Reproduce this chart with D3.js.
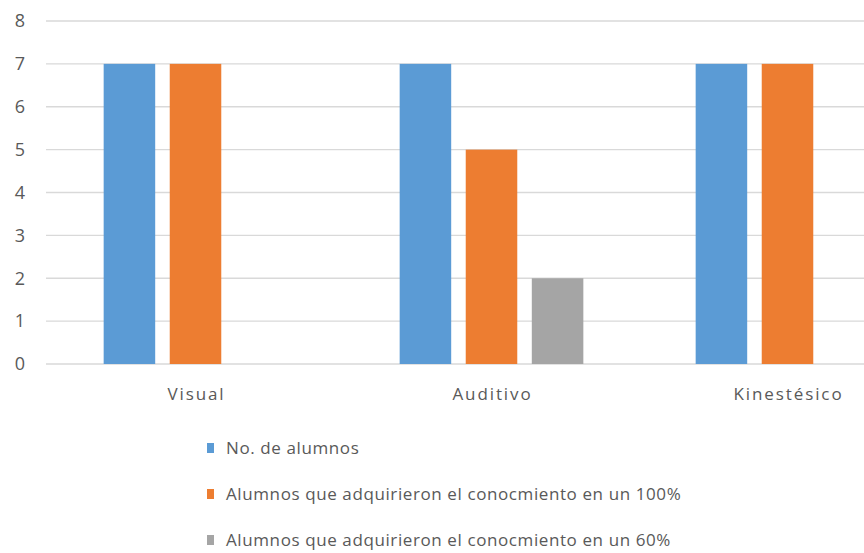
<!DOCTYPE html>
<html>
<head>
<meta charset="utf-8">
<script src="https://cdn.jsdelivr.net/npm/d3@7"></script>
<style>
  body { margin: 0; background: #fff; }
  svg { display: block; font-family: "Open Sans", "Liberation Sans", sans-serif; }
</style>
</head>
<body>
<svg width="864" height="553"></svg>
<script>
// data
var categories = ["Visual", "Auditivo", "Kinestésico"];
var seriesNames = [
  "No. de alumnos",
  "Alumnos que adquirieron el conocmiento en un 100%",
  "Alumnos que adquirieron el conocmiento en un 60%"
];
var noAlumnos = [7, 7, 7];
var al100 = [7, 5, 7];
var al60 = [0, 2, 0];
var yTicks = [0, 1, 2, 3, 4, 5, 6, 7, 8];
var colors = ["#5b9bd5", "#ed7d31", "#a5a5a5"];

var svg = d3.select("svg");
var series = [noAlumnos, al100, al60];

// plot area runs past the right edge (cropped like the original)
var x = d3.scaleBand().domain(categories).range([47.5, 935.5]).paddingInner(0).paddingOuter(0);
var y = d3.scaleLinear().domain([0, 8]).range([364, 21]);

var inner = d3.scaleBand().domain(d3.range(series.length))
  .range([0, x.bandwidth()]).paddingInner(0.22).paddingOuter(0.85);

// gridlines
svg.append("g")
  .selectAll("line")
  .data(yTicks)
  .join("line")
  .attr("x1", 46).attr("x2", 864)
  .attr("y1", d => y(d)).attr("y2", d => y(d))
  .attr("stroke", "#d9d9d9").attr("stroke-width", 1.3);

// y labels
svg.append("g")
  .selectAll("text")
  .data(yTicks)
  .join("text")
  .attr("x", 25).attr("y", d => y(d))
  .attr("dy", "0.35em")
  .attr("text-anchor", "end")
  .attr("fill", "#595959")
  .style("font-size", "18px")
  .text(d => d);

// bars
var rows = [];
categories.forEach(function (c, i) {
  series.forEach(function (s, j) {
    rows.push({ cat: c, s: j, v: s[i] });
  });
});
svg.append("g")
  .selectAll("rect")
  .data(rows.filter(d => d.v > 0))
  .join("rect")
  .attr("x", d => x(d.cat) + inner(d.s))
  .attr("width", inner.bandwidth())
  .attr("y", d => y(d.v))
  .attr("height", d => y(0) - y(d.v))
  .attr("fill", d => colors[d.s]);

// category labels
svg.append("g")
  .selectAll("text")
  .data(categories)
  .join("text")
  .attr("x", d => x(d) + x.bandwidth() / 2 + 1)
  .attr("y", 400)
  .attr("text-anchor", "middle")
  .attr("fill", "#595959")
  .style("font-size", "17px")
  .style("letter-spacing", "1.9px")
  .text(d => d);

// legend
var legend = svg.append("g")
  .selectAll("g")
  .data(seriesNames)
  .join("g")
  .attr("transform", (d, i) => "translate(207," + (448 + i * 46) + ")");
legend.append("rect")
  .attr("x", 0).attr("y", -5).attr("width", 7).attr("height", 10)
  .attr("fill", (d, i) => colors[i]);
legend.append("text")
  .attr("x", 19).attr("dy", "0.35em")
  .attr("fill", "#595959")
  .style("font-size", "17px")
  .style("letter-spacing", "0.6px")
  .text(d => d);
</script>
</body>
</html>
